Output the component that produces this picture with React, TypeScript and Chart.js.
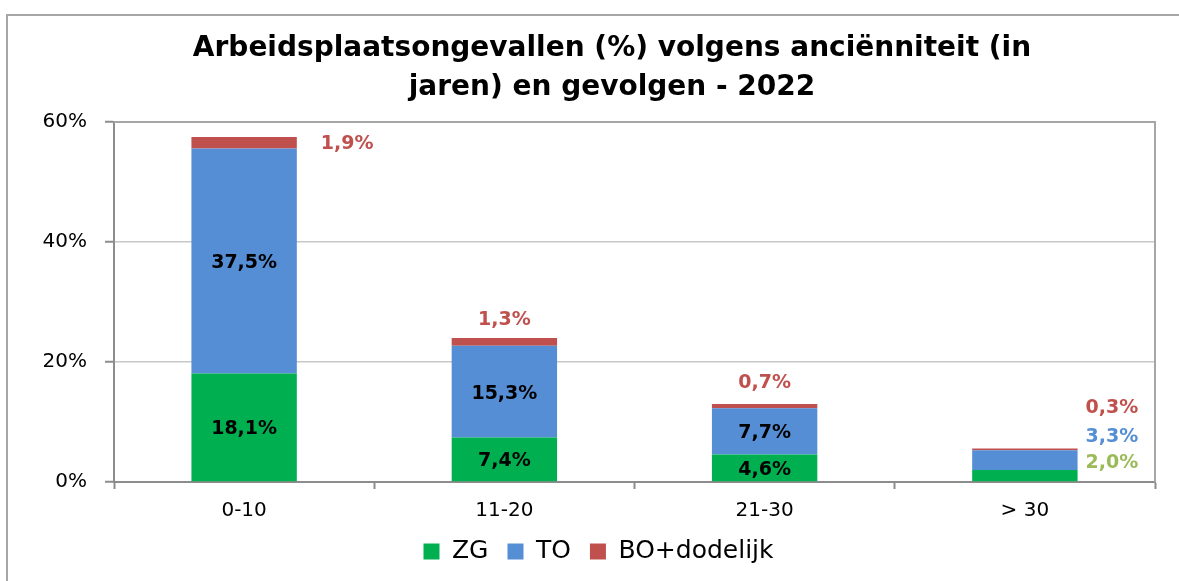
import React, { useEffect, useRef } from "react";
import { Chart, registerables } from "chart.js";

Chart.register(...registerables);

const titleLines = ["Arbeidsplaatsongevallen (%) volgens anciënniteit (in", "jaren) en gevolgen - 2022"];
const categories = ["0-10", "11-20", "21-30", "> 30"];
const seriesNames = ["ZG", "TO", "BO+dodelijk"];
const zgValues = [18.1, 7.4, 4.6, 2.0];
const toValues = [37.5, 15.3, 7.7, 3.3];
const boValues = [1.9, 1.3, 0.7, 0.3];
const yTicks = [0, 20, 40, 60];

const FONT = "'DejaVu Sans', Verdana, sans-serif";
const barColors = ["#00B050", "#558ED5", "#C0504D"];
const sideLabelColors = ["#9BBB59", "#558ED5", "#C0504D"];

// label placement per dataset / category (positions only)
type Place = { pos: "center" | "side" | "above"; dx?: number; dy?: number };
const labelPlacement: Place[][] = [
  [{ pos: "center" }, { pos: "center" }, { pos: "center" }, { pos: "side", dx: 8, dy: -13 }],
  [{ pos: "center" }, { pos: "center" }, { pos: "center" }, { pos: "side", dx: 8, dy: -23 }],
  [{ pos: "side", dx: 24, dy: 1 }, { pos: "above", dy: -18 }, { pos: "above", dy: -21 }, { pos: "side", dx: 8, dy: -41 }],
];

const fmt = (v: number) => v.toFixed(1).replace(".", ",") + "%";

const framePlugin = {
  id: "frame",
  beforeDraw(chart: any) {
    const ctx = chart.ctx;
    ctx.save();
    ctx.fillStyle = "#ffffff";
    ctx.fillRect(0, 0, chart.width, chart.height);
    ctx.strokeStyle = "#A6A6A6";
    ctx.lineWidth = 2;
    ctx.beginPath();
    ctx.moveTo(7, chart.height + 10);
    ctx.lineTo(7, 15);
    ctx.lineTo(chart.width + 10, 15);
    ctx.stroke();
    ctx.restore();
  },
  beforeDatasetsDraw(chart: any) {
    const { ctx, chartArea: a } = chart;
    ctx.save();
    ctx.strokeStyle = "#A6A6A6";
    ctx.lineWidth = 2;
    ctx.beginPath();
    ctx.moveTo(a.left, a.top);
    ctx.lineTo(a.right, a.top);
    ctx.lineTo(a.right, a.bottom);
    ctx.stroke();
    ctx.restore();
  },
  afterDraw(chart: any) {
    const ctx = chart.ctx;
    ctx.save();
    ctx.fillStyle = "#000000";
    ctx.font = `bold 28px ${FONT}`;
    ctx.textAlign = "center";
    ctx.textBaseline = "middle";
    titleLines.forEach((line, i) => ctx.fillText(line, 612, 48.5 + i * 39));
    ctx.restore();
  },
};

const labelPlugin = {
  id: "valueLabels",
  afterDatasetsDraw(chart: any) {
    const ctx = chart.ctx;
    ctx.save();
    ctx.font = `bold 19px ${FONT}`;
    chart.data.datasets.forEach((ds: any, di: number) => {
      const meta = chart.getDatasetMeta(di);
      meta.data.forEach((el: any, i: number) => {
        const v = ds.data[i];
        const p = labelPlacement[di][i];
        const top = Math.min(el.y, el.base);
        const bottom = Math.max(el.y, el.base);
        const mid = (top + bottom) / 2;
        const half = el.width / 2;
        ctx.textBaseline = "middle";
        if (p.pos === "center") {
          ctx.fillStyle = "#000000";
          ctx.textAlign = "center";
          ctx.fillText(fmt(v), el.x, mid + 2);
        } else if (p.pos === "side") {
          ctx.fillStyle = i === 3 ? sideLabelColors[di] : barColors[2];
          ctx.textAlign = "left";
          ctx.fillText(fmt(v), el.x + half + (p.dx || 0), mid + (p.dy || 0));
        } else {
          ctx.fillStyle = barColors[2];
          ctx.textAlign = "center";
          ctx.fillText(fmt(v), el.x, top + (p.dy || 0));
        }
      });
    });
    ctx.restore();
  },
};

export default function App() {
  const ref = useRef<HTMLCanvasElement>(null);
  useEffect(() => {
    if (!ref.current) return;
    const values = [zgValues, toValues, boValues];
    const chart = new Chart(ref.current, {
      type: "bar",
      data: {
        labels: categories,
        datasets: seriesNames.map((name, k) => ({
          label: name,
          data: values[k],
          backgroundColor: barColors[k],
          borderWidth: 0,
          barPercentage: 0.405,
          categoryPercentage: 1,
        })),
      },
      options: {
        responsive: false,
        animation: false,
        devicePixelRatio: 1,
        layout: { padding: { left: 42, right: 24, top: 122, bottom: 7 } },
        plugins: {
          title: { display: false },
          legend: {
            position: "bottom",
            labels: {
              boxWidth: 16,
              boxHeight: 16,
              padding: 19,
              color: "#000000",
              font: { family: FONT, size: 25 },
            },
          },
          tooltip: { enabled: false },
        },
        scales: {
          x: {
            stacked: true,
            grid: {
              display: true,
              drawOnChartArea: false,
              drawTicks: true,
              tickLength: 7,
              tickColor: "#8C8C8C",
              tickWidth: 2,
              offset: true,
            },
            border: { color: "#8C8C8C", width: 2 },
            ticks: { color: "#000000", font: { family: FONT, size: 20, lineHeight: 1 }, padding: 12 },
            afterFit: (s: any) => {
              s.height = 38;
            },
          },
          y: {
            stacked: true,
            min: yTicks[0],
            max: yTicks[yTicks.length - 1],
            afterBuildTicks: (s: any) => {
              s.ticks = yTicks.map((v) => ({ value: v }));
            },
            ticks: {
              color: "#000000",
              font: { family: FONT, size: 20 },
              padding: 18,
              callback: (v: any) => v + "%",
            },
            grid: { color: "#C8C8C8", lineWidth: 1.5, tickLength: 9, tickColor: "#8C8C8C", tickWidth: 2 },
            border: { color: "#8C8C8C", width: 2 },
            afterFit: (s: any) => {
              s.width = 72;
            },
          },
        },
      },
      plugins: [framePlugin, labelPlugin],
    });
    return () => chart.destroy();
  }, []);
  return (
    <div style={{ position: "absolute", left: 0, top: 0, width: 1179, height: 581 }}>
      <canvas ref={ref} width={1179} height={581} />
    </div>
  );
}
